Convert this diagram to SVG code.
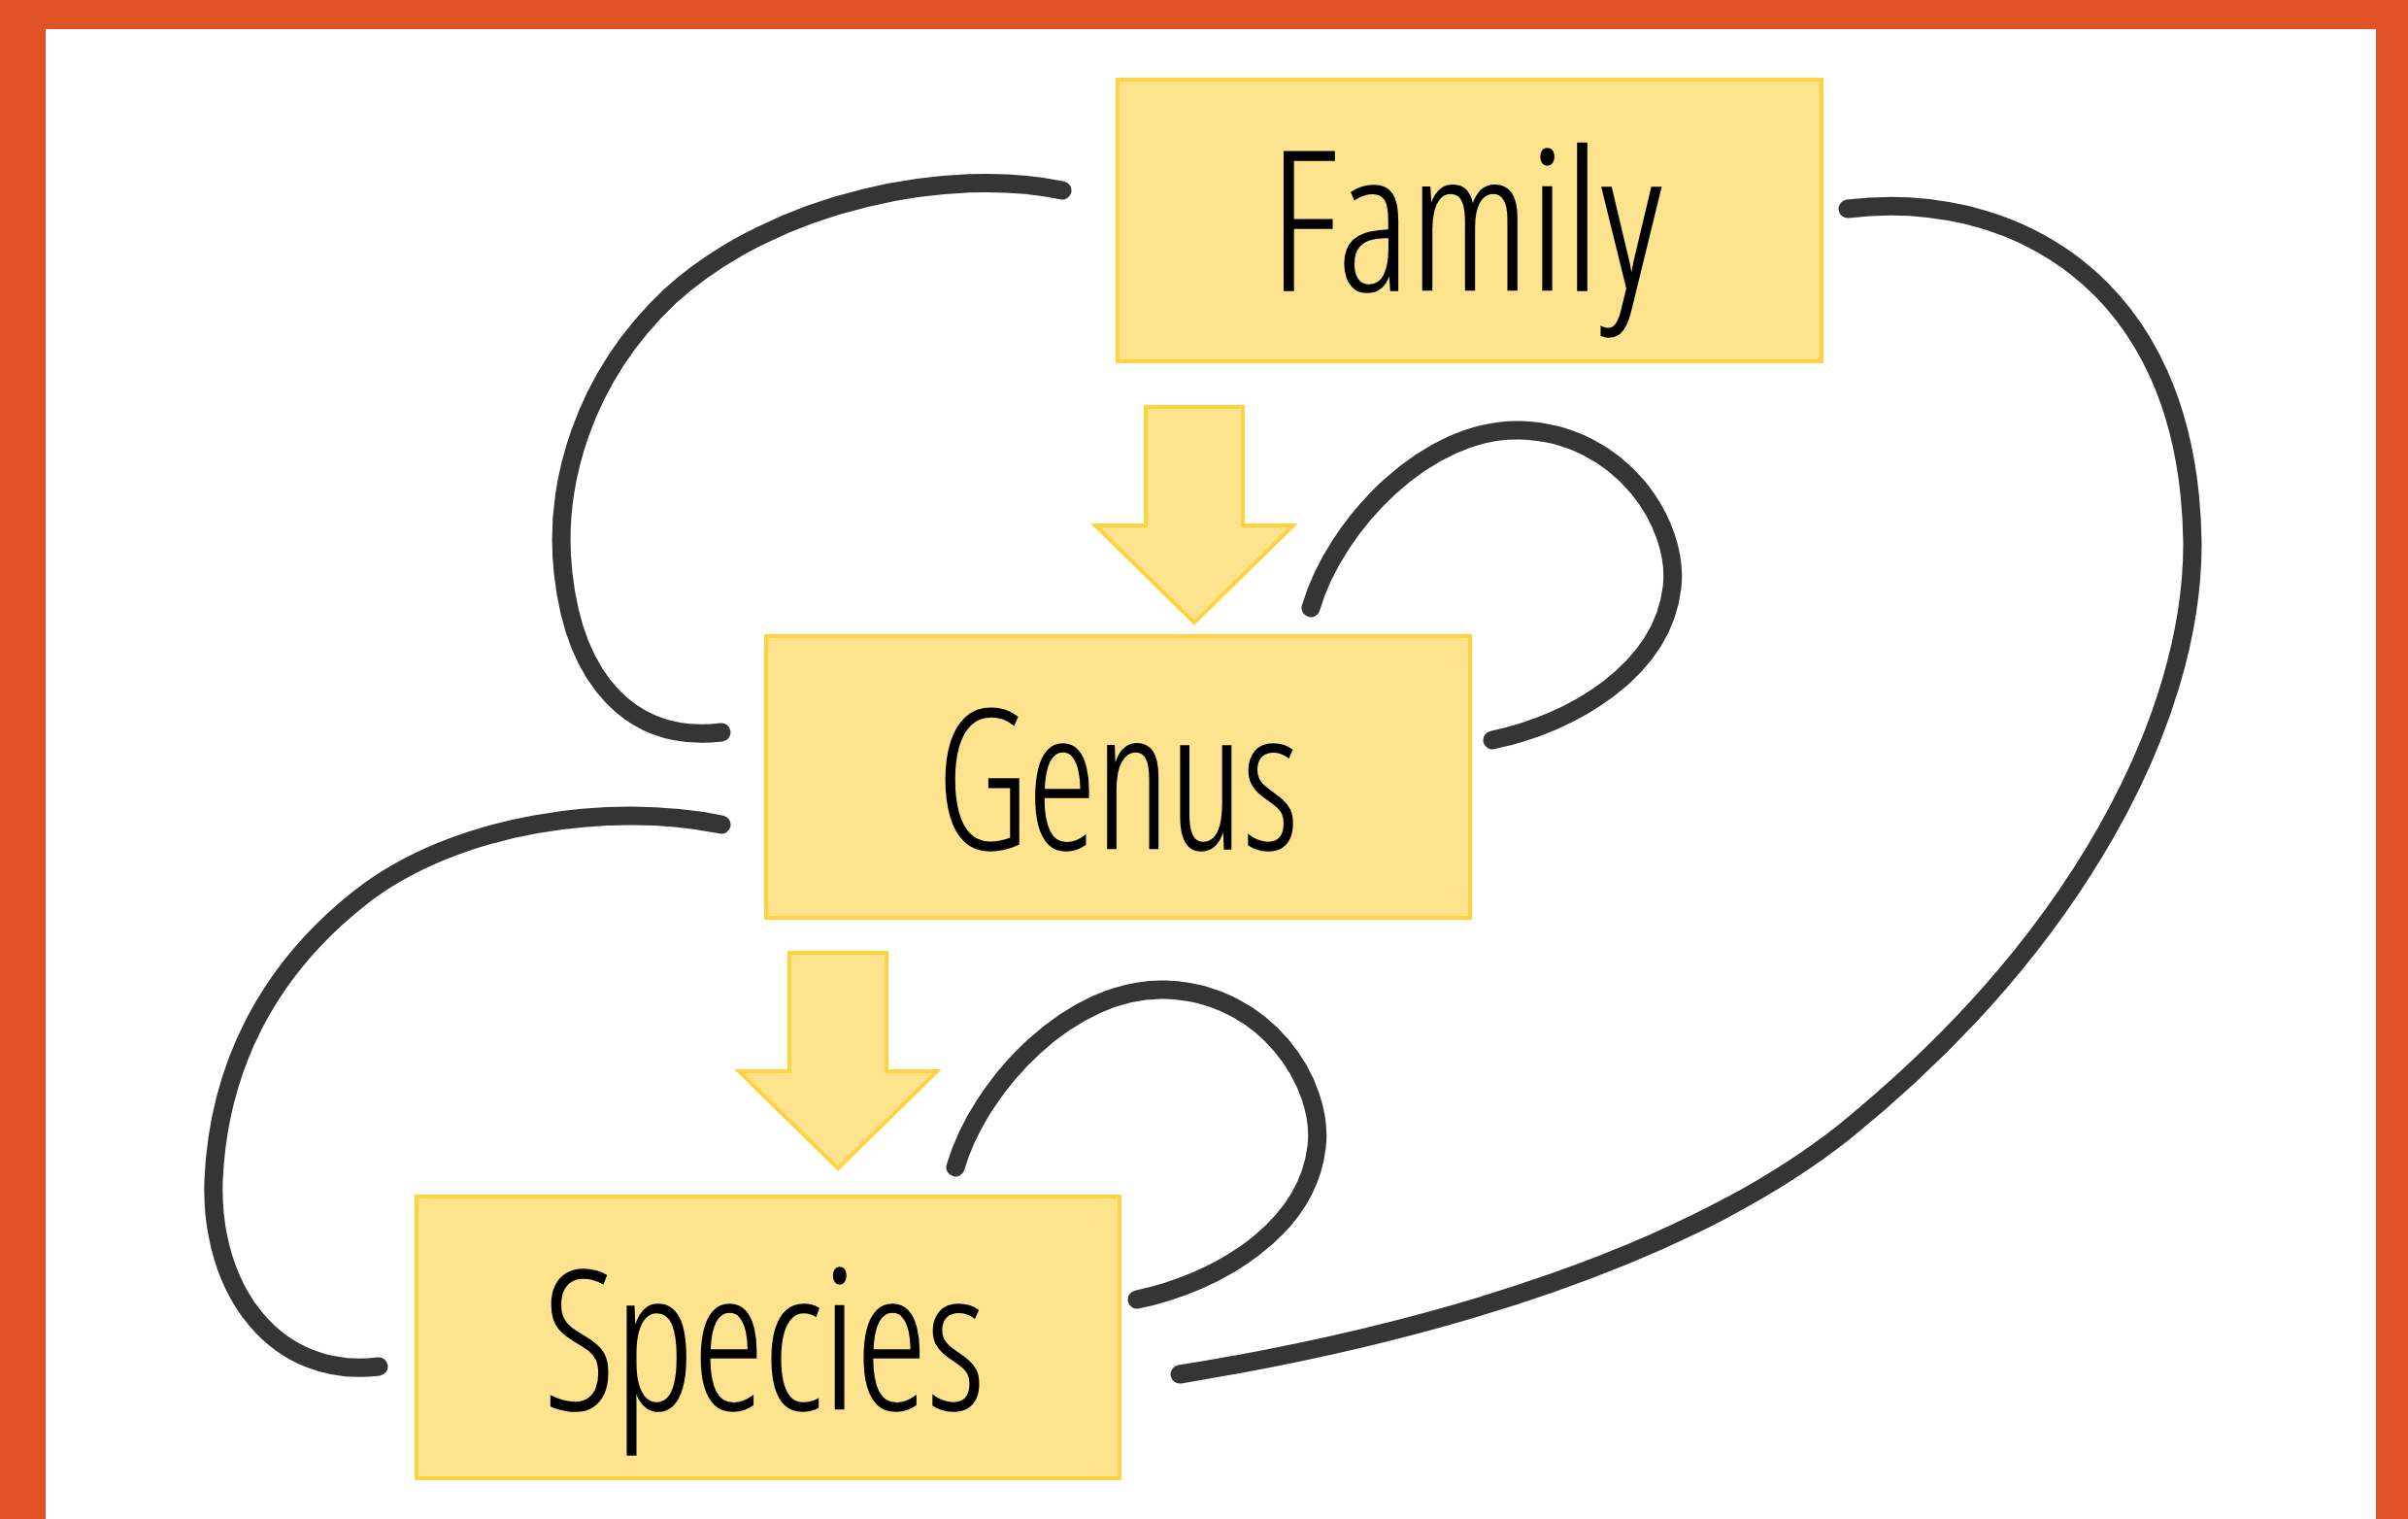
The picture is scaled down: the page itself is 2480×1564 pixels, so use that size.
<svg xmlns="http://www.w3.org/2000/svg" width="2480" height="1564" viewBox="0 0 2480 1564">
  <style>
    .box { fill: #FDE38E; stroke: #FFD23F; stroke-width: 4; }
    .label { font-family: "Open Sans", "Noto Sans", "Liberation Sans", sans-serif; font-weight: 300; font-stretch: 75%; font-size: 200px; fill: #000000; stroke: #000000; stroke-width: 1.5; text-anchor: middle; }
    .step { fill: #FDE38E; stroke: #FFD23F; stroke-width: 4; stroke-linejoin: miter; }
    .link { fill: none; stroke: #353535; stroke-width: 19; stroke-linecap: round; stroke-linejoin: round; }
  </style>
  <defs>
    <!-- block arrow pointing down, origin at top centre of the shaft -->
    <path id="down-arrow" d="M -50 0 H 50 V 122 H 102 L 0 222 L -102 122 H -50 Z"/>
  </defs>

  <!-- page and frame -->
  <rect x="0" y="0" width="2480" height="1564" fill="#FFFFFF"/>
  <g id="frame" fill="#E15327">
    <rect x="0" y="0" width="2480" height="30"/>
    <rect x="0" y="0" width="47" height="1564"/>
    <rect x="2447" y="0" width="33" height="1564"/>
  </g>

  <!-- hierarchy step arrows -->
  <g id="steps">
    <use href="#down-arrow" class="step" x="1230" y="419"/>
    <use href="#down-arrow" class="step" x="863" y="981"/>
  </g>

  <g id="node-family">
    <rect class="box" x="1151" y="82" width="725" height="290"/>
    <text class="label" x="1510" y="299" textLength="404" lengthAdjust="spacingAndGlyphs">Family</text>
  </g>

  <g id="node-genus">
    <rect class="box" x="789" y="655" width="725" height="290"/>
    <text class="label" x="1151" y="874" textLength="372" lengthAdjust="spacingAndGlyphs">Genus</text>
  </g>

  <g id="node-species">
    <rect class="box" x="429" y="1232" width="724" height="290"/>
    <text class="label" x="787" y="1451" textLength="454" lengthAdjust="spacingAndGlyphs">Species</text>
  </g>

  <!-- hand-drawn connectors -->
  <g id="connectors">
    <path class="link" d="M 1094 196 C 980 172, 800 205, 690 305 C 600 390, 570 500, 580 590 C 592 700, 650 765, 743 754"/>
    <path class="link" d="M 1350 626 C 1375 540, 1470 440, 1566 443 C 1670 446, 1730 540, 1722 605 C 1712 690, 1620 745, 1537 762"/>
    <path class="link" d="M 743 849 C 630 826, 470 846, 370 925 C 275 1000, 225 1100, 220 1215 C 216 1330, 285 1420, 390 1407"/>
    <path class="link" d="M 984 1202 C 1009 1116, 1104 1016, 1200 1019 C 1304 1022, 1364 1116, 1356 1181 C 1346 1266, 1254 1321, 1171 1338"/>
    <path class="link" d="M 1903 215 C 2060 195, 2255 280, 2258 560 C 2258 740, 2140 970, 1900 1165 C 1740 1292, 1480 1372, 1215 1415"/>
  </g>
</svg>
